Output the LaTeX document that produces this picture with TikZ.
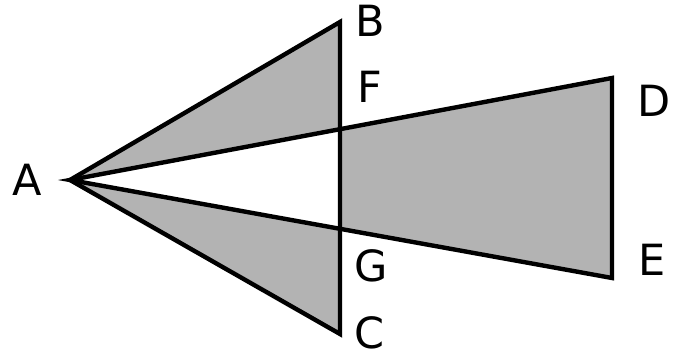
\documentclass[tikz,border=0pt]{standalone}
\usepackage{fontspec}
\setmainfont{DejaVu Sans}
\usepackage{tikz}
\usetikzlibrary{calc}
\definecolor{areagray}{RGB}{179,179,179}
\tikzset{
  vertex/.style={font=\fontsize{21.5pt}{24pt}\selectfont,inner sep=0pt},
  edge/.style={line width=2.2pt,line join=miter}
}

\begin{document}
\begin{tikzpicture}[x=0.5pt,y=-0.5pt]
  \useasboundingbox (0,0) rectangle (680,356);
  % corners
  \coordinate (A) at (70,180);
  \coordinate (B) at (340,22);
  \coordinate (C) at (340,334);
  \coordinate (D) at (612,78);
  \coordinate (E) at (612,278);
  \coordinate (F) at (intersection of A--D and B--C);
  \coordinate (G) at (intersection of A--E and B--C);
  % shaded parts
  \fill[areagray] (A) -- (B) -- (F) -- cycle;
  \fill[areagray] (A) -- (G) -- (C) -- cycle;
  \fill[areagray] (F) -- (D) -- (E) -- (G) -- cycle;
  % outlines
  \draw[edge] (A) -- (B) -- (C) -- cycle;
  \draw[edge] (A) -- (D) -- (E) -- cycle;
  % labels
  \node[vertex] (labA) at (27,180) {A};
  \node[vertex] (labB) at (370,21) {B};
  \node[vertex] (labC) at (370,333) {C};
  \node[vertex] (labD) at (654,101) {D};
  \node[vertex] (labE) at (652,260) {E};
  \node[vertex] (labF) at (370,87) {F};
  \node[vertex] (labG) at (371,266) {G};
\end{tikzpicture}
\end{document}
